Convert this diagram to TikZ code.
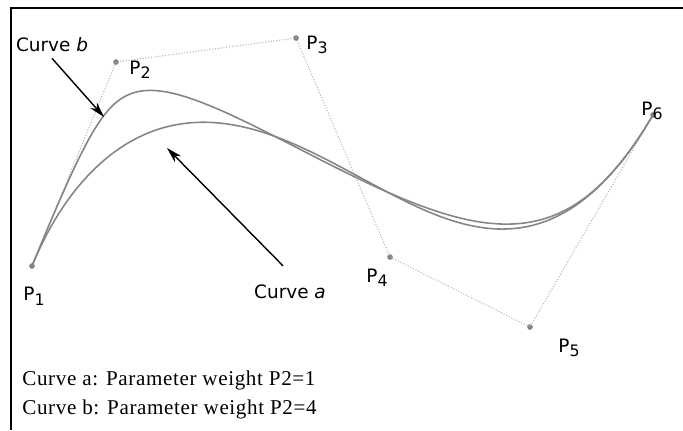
\documentclass[tikz,border=0pt]{standalone}
\usepackage{fontspec}
\setmainfont{DejaVu Sans}
\newfontfamily\legendfont{Liberation Serif}
\usetikzlibrary{arrows.meta}
\newcommand\sub[1]{\raisebox{-0.45ex}{\small #1}}
\definecolor{curvegray}{HTML}{858585}
\definecolor{polygray}{HTML}{B4B4B4}
\tikzset{
  declare function={
    ba(\t)=(1-\t)^5; bb(\t)=5*\t*(1-\t)^4; bc(\t)=10*\t^2*(1-\t)^3;
    bd(\t)=10*\t^3*(1-\t)^2; be(\t)=5*\t^4*(1-\t); bf(\t)=\t^5;
    crvx(\t,\w)=(32*ba(\t)+\w*116*bb(\t)+296*bc(\t)+390*bd(\t)+530*be(\t)+653*bf(\t))/(1+(\w-1)*bb(\t));
    crvy(\t,\w)=(266*ba(\t)+\w*62*bb(\t)+38*bc(\t)+257*bd(\t)+327*be(\t)+115*bf(\t))/(1+(\w-1)*bb(\t));
  },
  ctrlpt/.style={circle,fill=gray,inner sep=0pt,minimum size=3.2pt},
  ctrlpoly/.style={polygray,densely dotted,line width=0.6pt},
  curve/.style={curvegray,line width=0.9pt},
  lbl/.style={font=\fontsize{10.5}{12}\selectfont},
  pointer/.style={line width=0.8pt,-{Stealth[length=9pt,width=5pt]}},
  legend/.style={font=\legendfont\addfontfeature{LetterSpace=3}\fontsize{12}{14}\selectfont,anchor=west,inner sep=0pt}
}
\begin{document}
\begin{tikzpicture}[x=0.02cm,y=-0.02cm]
  \useasboundingbox (0,0) rectangle (683,430);
  % frame
  \draw[line width=1.3pt] (11,430) -- (11,8) -- (683,8);
  % control points
  \node[ctrlpt] (p1) at (32,266) {};
  \node[ctrlpt] (p2) at (116,62) {};
  \node[ctrlpt] (p3) at (296,38) {};
  \node[ctrlpt] (p4) at (390,257) {};
  \node[ctrlpt] (p5) at (530,327) {};
  \node[ctrlpt] (p6) at (653,115) {};
  \draw[ctrlpoly] (p1.center) -- (p2.center) -- (p3.center) -- (p4.center)
    -- (p5.center) -- (p6.center);
  % curves a (w=1) and b (w=4)
  \draw[curve] plot[domain=0:1,samples=160,variable=\t] ({crvx(\t,1)},{crvy(\t,1)});
  \draw[curve] plot[domain=0:1,samples=160,variable=\t] ({crvx(\t,4)},{crvy(\t,4)});
  % labels
  \node[lbl] (l1) at (34,296) {P\sub{1}};
  \node[lbl] (l2) at (140,70) {P\sub{2}};
  \node[lbl] (l3) at (317,45) {P\sub{3}};
  \node[lbl] (l4) at (377,278) {P\sub{4}};
  \node[lbl] (l5) at (569,348) {P\sub{5}};
  \node[lbl] (l6) at (652,111) {P\sub{6}};
  \node[lbl] (cb) at (52,45) {Curve \textit{b}};
  \node[lbl] (ca) at (290,292) {Curve \textit{a}};
  \coordinate (tipb) at (104,117);
  \coordinate (tipa) at (167,148);
  \draw[pointer] (cb.south) -- (tipb);
  \draw[pointer] ([shift={(-7,-13)}]ca.north) -- (tipa);
  % legend
  \node[legend] (lga) at (22,380) {Curve a: Parameter weight P2=1};
  \node[legend] (lgb) at (22,409) {Curve b: Parameter weight P2=4};
\end{tikzpicture}
\end{document}
